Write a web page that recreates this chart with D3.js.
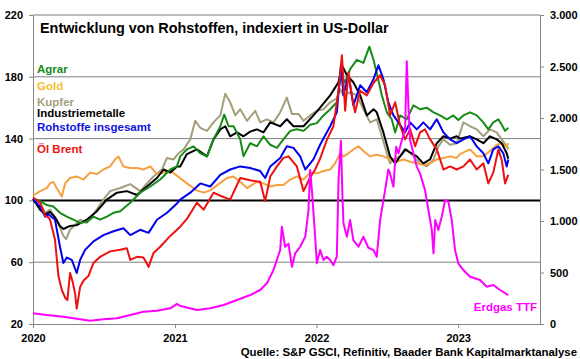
<!DOCTYPE html>
<html>
<head>
<meta charset="utf-8">
<script src="https://cdn.jsdelivr.net/npm/d3@7"></script>
<style>
  body { margin: 0; background: #fff; }
  svg { font-family: "Liberation Sans", Arial, sans-serif; }
</style>
</head>
<body>
<div id="chart"></div>
<script>
// series as [decimal year, value]; left axis index (2020 = 100), right axis for Erdgas
let agrar = [[2020.00,101],[2020.05,99.5],[2020.097,97],[2020.143,96],[2020.19,92],[2020.238,89.5],[2020.284,87.5],[2020.332,85.5],[2020.379,86],[2020.426,89.5],[2020.473,87.5],[2020.52,89.5],[2020.567,92],[2020.614,93],[2020.685,98.5],[2020.755,105],[2020.826,109],[2020.896,113.5],[2020.967,120],[2021.014,122],[2021.037,128.5],[2021.084,133],[2021.131,135],[2021.179,130.5],[2021.226,128.5],[2021.272,139.5],[2021.32,148],[2021.348,155.5],[2021.379,148],[2021.414,148],[2021.461,139.5],[2021.484,128.5],[2021.531,137],[2021.579,135],[2021.625,141.5],[2021.673,136],[2021.72,134],[2021.766,139.5],[2021.814,145],[2021.861,146],[2021.908,145],[2021.955,149],[2022.002,150],[2022.049,155],[2022.096,159],[2022.143,163.5],[2022.172,181],[2022.202,176.5],[2022.237,185],[2022.284,191],[2022.331,189],[2022.373,199.5],[2022.402,191],[2022.425,182.5],[2022.461,168],[2022.496,157],[2022.531,152.5],[2022.555,144],[2022.59,155],[2022.637,152.5],[2022.684,161.5],[2022.731,159],[2022.778,160],[2022.826,157],[2022.872,155],[2022.92,152.5],[2022.966,155],[2023.001,152],[2023.037,155],[2023.084,157],[2023.131,155],[2023.178,150.5],[2023.213,146],[2023.248,150.5],[2023.284,152.5],[2023.308,149],[2023.331,145],[2023.354,147]];

let gold = [[2020.00,103],[2020.05,106],[2020.097,108],[2020.12,111],[2020.143,112],[2020.167,108],[2020.203,102.5],[2020.226,111],[2020.261,114.5],[2020.308,115.5],[2020.355,113.5],[2020.402,118],[2020.45,117],[2020.496,120],[2020.543,122],[2020.579,126.5],[2020.602,128.5],[2020.637,122],[2020.685,121],[2020.732,121],[2020.778,120],[2020.826,122],[2020.873,117],[2020.92,118],[2020.967,119],[2021.014,116],[2021.084,111],[2021.155,106.5],[2021.202,105],[2021.249,106.5],[2021.308,110.5],[2021.367,114.5],[2021.414,115.5],[2021.461,112],[2021.508,108],[2021.579,112],[2021.625,111],[2021.673,109],[2021.72,110],[2021.766,110],[2021.814,113.5],[2021.861,115.5],[2021.908,113.5],[2021.955,118],[2022.002,117.5],[2022.049,119],[2022.096,120],[2022.131,124],[2022.167,130.5],[2022.19,128.5],[2022.225,130.5],[2022.26,133],[2022.296,135],[2022.331,132],[2022.378,128.5],[2022.425,129.5],[2022.472,128.5],[2022.519,126.5],[2022.566,125],[2022.613,126.5],[2022.661,125],[2022.708,124],[2022.754,123],[2022.802,124],[2022.849,126.5],[2022.896,127.5],[2022.943,128.5],[2022.99,127.5],[2023.013,130],[2023.084,133],[2023.131,128.5],[2023.178,128.5],[2023.225,132],[2023.272,136],[2023.308,137],[2023.343,135],[2023.354,137]];

let kupfer = [[2020.00,101],[2020.05,98.5],[2020.085,92],[2020.12,94],[2020.167,87.5],[2020.214,77],[2020.233,75],[2020.261,81],[2020.332,87.5],[2020.379,85.5],[2020.426,91],[2020.496,100.5],[2020.543,106],[2020.614,108],[2020.685,110.5],[2020.755,106],[2020.802,111],[2020.849,115.5],[2020.908,120],[2020.944,127.5],[2020.99,126.5],[2021.025,130.5],[2021.061,133],[2021.108,139.5],[2021.143,151.5],[2021.179,147],[2021.226,145],[2021.272,150.5],[2021.32,155],[2021.355,169],[2021.39,163.5],[2021.426,155],[2021.461,159],[2021.508,151.5],[2021.567,158],[2021.602,150.5],[2021.649,152.5],[2021.696,150.5],[2021.743,157],[2021.79,166.5],[2021.826,156],[2021.872,156],[2021.908,151.5],[2021.955,155],[2022.002,158],[2022.049,159],[2022.096,163.5],[2022.143,166],[2022.167,172],[2022.19,168],[2022.237,170],[2022.284,168],[2022.331,159],[2022.378,150.5],[2022.425,152.5],[2022.461,141.5],[2022.496,130.5],[2022.519,124],[2022.543,126.5],[2022.59,128.5],[2022.637,133],[2022.684,128.5],[2022.731,124],[2022.778,122],[2022.826,126.5],[2022.86,135],[2022.896,139.5],[2022.943,136],[2022.99,137],[2023.037,150.5],[2023.084,148],[2023.131,146],[2023.178,141.5],[2023.225,146],[2023.272,144],[2023.308,139.5],[2023.343,135],[2023.354,133]];

let industriemetalle = [[2020.00,101],[2020.05,94],[2020.085,91],[2020.12,92.5],[2020.155,89],[2020.19,83.5],[2020.214,81.5],[2020.261,83.5],[2020.308,84],[2020.379,87.5],[2020.45,93],[2020.52,100.5],[2020.591,105],[2020.661,106],[2020.732,103.5],[2020.802,109],[2020.873,114.5],[2020.92,120],[2020.967,118],[2021.014,122],[2021.037,122],[2021.084,130],[2021.155,133],[2021.226,128.5],[2021.272,139.5],[2021.32,146],[2021.355,148],[2021.39,141.5],[2021.438,144],[2021.484,141.5],[2021.531,144.5],[2021.579,146],[2021.625,144],[2021.673,150.5],[2021.743,148],[2021.79,152.5],[2021.837,148],[2021.908,148],[2021.978,155],[2022.025,160],[2022.096,168],[2022.155,176.5],[2022.179,187.5],[2022.214,181],[2022.26,176.5],[2022.308,168],[2022.355,155],[2022.402,159],[2022.425,157],[2022.472,144],[2022.519,128.5],[2022.555,124],[2022.59,128.5],[2022.625,133],[2022.661,131],[2022.708,128.5],[2022.754,124],[2022.802,126.5],[2022.849,137],[2022.896,141.5],[2022.943,140],[2022.99,141.5],[2023.013,140],[2023.084,141.5],[2023.131,139.5],[2023.178,137],[2023.225,141.5],[2023.272,139.5],[2023.308,137],[2023.343,130.5],[2023.354,127]];

let rohstoffe = [[2020.00,101],[2020.05,96],[2020.085,89.5],[2020.108,91],[2020.155,87.5],[2020.19,70],[2020.214,59.5],[2020.238,63],[2020.273,61.5],[2020.308,53],[2020.332,61.5],[2020.367,68],[2020.426,73.5],[2020.496,77.5],[2020.567,80],[2020.637,82],[2020.685,77.5],[2020.755,81],[2020.814,79],[2020.873,87.5],[2020.944,92],[2021.014,98],[2021.037,100.5],[2021.108,105],[2021.179,111],[2021.249,109],[2021.32,116.5],[2021.39,120],[2021.461,122],[2021.531,121],[2021.602,119],[2021.637,114.5],[2021.673,122],[2021.743,127.5],[2021.79,135],[2021.837,134],[2021.884,128.5],[2021.92,120],[2021.978,126.5],[2022.025,136],[2022.096,148],[2022.143,157],[2022.172,187.5],[2022.19,168],[2022.225,181],[2022.26,161.5],[2022.308,174.5],[2022.355,170],[2022.402,178.5],[2022.437,187.5],[2022.472,178.5],[2022.507,163.5],[2022.543,155],[2022.578,150.5],[2022.625,144],[2022.661,150.5],[2022.708,146],[2022.754,150.5],[2022.802,146],[2022.849,152.5],[2022.896,144],[2022.943,139.5],[2022.99,137],[2023.037,139.5],[2023.084,141.5],[2023.131,135],[2023.178,130.5],[2023.213,124],[2023.248,133],[2023.284,135],[2023.319,130.5],[2023.343,122],[2023.354,126.5]];

let oelBrent = [[2020.00,102],[2020.05,98.5],[2020.085,90],[2020.108,89],[2020.12,87.5],[2020.155,74.5],[2020.179,51],[2020.203,42],[2020.226,37],[2020.242,35.5],[2020.261,53],[2020.28,47],[2020.296,40],[2020.308,30],[2020.332,44],[2020.355,48],[2020.39,51],[2020.426,59.5],[2020.473,63.5],[2020.543,67],[2020.614,68],[2020.661,69],[2020.685,61.5],[2020.732,63.5],[2020.778,63],[2020.814,57],[2020.849,66],[2020.896,70],[2020.967,77],[2021.014,81],[2021.037,83],[2021.084,88],[2021.155,98.5],[2021.202,94],[2021.272,105],[2021.32,103],[2021.39,100.5],[2021.461,114.5],[2021.531,113],[2021.602,112],[2021.637,99.5],[2021.673,115.5],[2021.72,122],[2021.766,127.5],[2021.802,128.5],[2021.861,122],[2021.908,106],[2021.955,115],[2021.99,120],[2022.025,127],[2022.072,139],[2022.119,148],[2022.155,171],[2022.179,194],[2022.202,158],[2022.225,183],[2022.249,168],[2022.272,157],[2022.308,171],[2022.355,168],[2022.402,176],[2022.449,181],[2022.484,174.5],[2022.519,155],[2022.555,163.5],[2022.59,148.5],[2022.625,139.5],[2022.661,146],[2022.696,135],[2022.731,144],[2022.766,146],[2022.802,139.5],[2022.849,133],[2022.896,120],[2022.943,122],[2022.99,120],[2023.037,122],[2023.084,126.5],[2023.131,120],[2023.178,124],[2023.213,111],[2023.248,118],[2023.284,133],[2023.308,126],[2023.331,111],[2023.354,116.5]];

let erdgasTTF = [[2020.00,104],[2020.097,87],[2020.214,71],[2020.332,46],[2020.402,32],[2020.496,45],[2020.591,55],[2020.685,87],[2020.778,119],[2020.873,129],[2020.967,152],[2021.014,195],[2021.037,175],[2021.061,168],[2021.155,136],[2021.249,152],[2021.343,184],[2021.438,233],[2021.531,281],[2021.602,330],[2021.649,395],[2021.696,524],[2021.743,718],[2021.755,944],[2021.778,750],[2021.802,780],[2021.826,556],[2021.849,686],[2021.884,750],[2021.92,847],[2021.943,1106],[2021.955,1494],[2021.967,1300],[2021.99,847],[2022.002,589],[2022.025,718],[2022.049,621],[2022.072,653],[2022.096,621],[2022.119,572],[2022.143,653],[2022.155,1397],[2022.172,1780],[2022.183,1235],[2022.19,977],[2022.214,847],[2022.237,1009],[2022.26,815],[2022.296,750],[2022.331,847],[2022.366,740],[2022.402,718],[2022.425,653],[2022.449,1009],[2022.484,1300],[2022.507,1500],[2022.519,1462],[2022.543,1332],[2022.562,1720],[2022.578,1655],[2022.602,1785],[2022.625,1882],[2022.637,2550],[2022.651,2044],[2022.661,1785],[2022.684,1656],[2022.708,1526],[2022.731,1462],[2022.766,1300],[2022.79,1106],[2022.814,912],[2022.826,686],[2022.838,1009],[2022.86,912],[2022.884,1041],[2022.908,1203],[2022.931,1187],[2022.955,1009],[2022.978,718],[2023.001,589],[2023.037,524],[2023.084,459],[2023.155,427],[2023.202,362],[2023.248,378],[2023.296,330],[2023.354,281]];

let leftTicks = [20, 60, 100, 140, 180, 220],
  rightTicks = [0, 500, 1000, 1500, 2000, 2500, 3000],
  years = [2020, 2021, 2022, 2023];

let legendNames = ["Agrar", "Gold", "Kupfer", "Industriemetalle", "Rohstoffe insgesamt", "Öl Brent"];

let toDate = (y) => {
  var yr = Math.floor(y),
    start = Date.UTC(yr, 0, 1),
    end = Date.UTC(yr + 1, 0, 1);
  return new Date(start + (y - yr) * (end - start));
};

let draw = () => {
  var width = 580,
    height = 359,
    left = 33,
    right = 540,
    top = 15,
    bottom = 324;

  var svg = d3
    .select("#chart")
    .append("svg")
    .attr("width", width)
    .attr("height", height);

  var Xaxis = d3
      .scaleUtc()
      .domain([new Date(Date.UTC(2020, 0, 1)), new Date(Date.UTC(2023, 6, 31))])
      .range([left, right]),
    Yaxis = d3.scaleLinear().domain([20, 220]).range([bottom, top]),
    Y2axis = d3.scaleLinear().domain([0, 3000]).range([bottom, top]);

  var de = d3.formatLocale({ decimal: ",", thousands: ".", grouping: [3], currency: ["", "€"] });

  // grid lines
  svg
    .selectAll(".grid")
    .data(leftTicks.filter((t) => t !== 20 && t !== 100))
    .enter()
    .append("line")
    .attr("x1", left)
    .attr("x2", right)
    .attr("y1", (d) => Yaxis(d))
    .attr("y2", (d) => Yaxis(d))
    .attr("stroke", "#7f7f7f")
    .attr("stroke-width", 1);

  // axes
  var gL = svg
    .append("g")
    .attr("transform", `translate(${left},0)`)
    .call(d3.axisLeft(Yaxis).tickValues(leftTicks).tickSize(4).tickSizeOuter(0).tickPadding(6));
  var gR = svg
    .append("g")
    .attr("transform", `translate(${right},0)`)
    .call(
      d3.axisRight(Y2axis).tickValues(rightTicks).tickSize(4).tickSizeOuter(0).tickPadding(6)
        .tickFormat(de.format(",d"))
    );
  var gB = svg
    .append("g")
    .attr("transform", `translate(0,${bottom})`)
    .call(
      d3.axisBottom(Xaxis)
        .tickValues(years.map((y) => new Date(Date.UTC(y, 0, 1))))
        .tickFormat(d3.utcFormat("%Y"))
        .tickSize(4)
        .tickSizeOuter(0)
        .tickPadding(6)
    );

  [gL, gR, gB].forEach((g) => {
    g.selectAll("path,line").attr("stroke", "#868686");
    g.selectAll("text")
      .attr("fill", "#000")
      .style("font-size", "11px")
      .style("font-weight", "bold")
      .style("font-family", '"Liberation Sans", Arial, sans-serif');
  });

  // 100 line
  svg
    .append("line")
    .attr("x1", left)
    .attr("x2", right)
    .attr("y1", Yaxis(100))
    .attr("y2", Yaxis(100))
    .attr("stroke", "#000")
    .attr("stroke-width", 2);

  var Line = d3
    .line()
    .x((d) => Xaxis(toDate(d[0])))
    .y((d) => Yaxis(d[1]));
  var Line2 = d3
    .line()
    .x((d) => Xaxis(toDate(d[0])))
    .y((d) => Y2axis(d[1]));

  var series = [
    { data: kupfer, color: "#a59e7c", line: Line },
    { data: gold, color: "#f5a142", line: Line },
    { data: industriemetalle, color: "#000000", line: Line },
    { data: agrar, color: "#178a17", line: Line },
    { data: rohstoffe, color: "#0000ee", line: Line },
    { data: oelBrent, color: "#ee1111", line: Line },
    { data: erdgasTTF, color: "#ff00ff", line: Line2 },
  ];

  series.forEach((s) => {
    svg
      .append("path")
      .attr("d", s.line(s.data))
      .attr("fill", "none")
      .attr("stroke", s.color)
      .attr("stroke-width", 2)
      .attr("stroke-linejoin", "round");
  });

  // title
  svg
    .append("text")
    .attr("x", 40)
    .attr("y", 33)
    .style("font-size", "14.4px")
    .style("font-weight", "bold")
    .attr("fill", "#000")
    .text("Entwicklung von Rohstoffen, indexiert in US-Dollar");

  // legend
  var legendColors = ["#178a17", "#f0c030", "#a59e7c", "#000000", "#1010dd", "#ee1111"],
    legendY = [73, 90, 106, 117, 131, 153];
  svg
    .selectAll(".legend")
    .data(legendNames)
    .enter()
    .append("text")
    .attr("x", 37)
    .attr("y", (d, i) => legendY[i])
    .attr("fill", (d, i) => legendColors[i])
    .style("font-size", "11.5px")
    .style("font-weight", "bold")
    .text((d) => d);

  svg
    .append("text")
    .attr("x", 537)
    .attr("y", 311)
    .attr("text-anchor", "end")
    .attr("fill", "#ff00ff")
    .style("font-size", "11.5px")
    .style("font-weight", "bold")
    .text("Erdgas TTF");

  svg
    .append("text")
    .attr("x", 577)
    .attr("y", 356)
    .attr("text-anchor", "end")
    .attr("fill", "#000")
    .style("font-size", "11.4px")
    .style("font-weight", "bold")
    .text("Quelle: S&P GSCI, Refinitiv, Baader Bank Kapitalmarktanalyse");
};

draw();
</script>
</body>
</html>
